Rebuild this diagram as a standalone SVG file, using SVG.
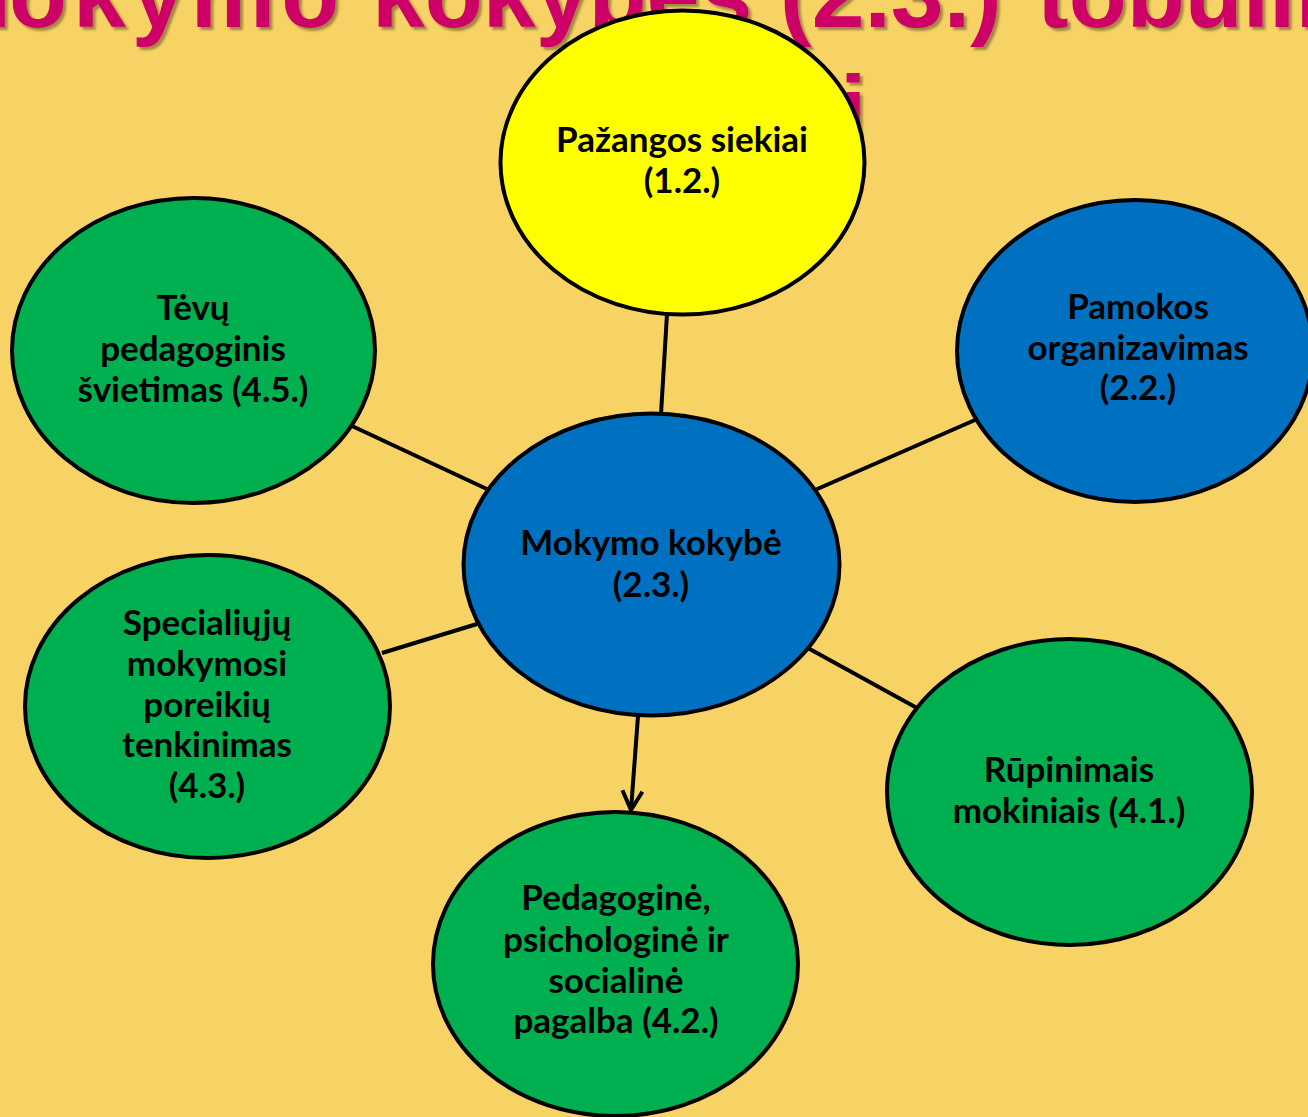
<svg xmlns="http://www.w3.org/2000/svg" width="1308" height="1117" viewBox="0 0 1308 1117">
<defs>
<style>
.title{font-family:"Liberation Sans",Arial,sans-serif;font-weight:bold;font-size:95px;fill:#CC0066}
.node{stroke:#000;stroke-width:4}
.blue{fill:#0070C0}
.green{fill:#00B050}
.yellow{fill:#FFFF00}
.lbl{font-family:Lato,"Open Sans","Liberation Sans",sans-serif;font-weight:bold;font-size:35px;fill:#000;text-anchor:middle}
.conn{stroke:#000;stroke-width:4;fill:none}
</style>
<filter id="sh" x="-5%" y="-20%" width="110%" height="140%">
<feDropShadow dx="3" dy="3" stdDeviation="1" flood-color="#000" flood-opacity="0.35"/>
</filter>
<marker id="arr" markerUnits="userSpaceOnUse" markerWidth="40" markerHeight="40" refX="0" refY="0" orient="auto" overflow="visible" viewBox="-30 -20 40 40">
<path d="M-19,-10 L0,0 L-19,10" fill="none" stroke="#000" stroke-width="4" stroke-linejoin="miter"/>
</marker>
</defs>
<rect width="1308" height="1117" fill="#F7D264"/>
<g id="title" filter="url(#sh)">
<text class="title" y="27"><tspan x="-68">M</tspan><tspan x="9" letter-spacing="6">okymo</tspan><tspan x="372">kokybės</tspan><tspan x="780">(2.3.)</tspan><tspan x="1037">tobulinimo</tspan></text>
<text class="title" x="840" y="142">i</text>
</g>
<g id="connectors">
<line class="conn" x1="667" y1="314" x2="661" y2="414"/>
<line class="conn" x1="352" y1="426" x2="489" y2="490"/>
<line class="conn" x1="975" y1="420" x2="815" y2="490"/>
<line class="conn" x1="382" y1="653" x2="477" y2="624"/>
<line class="conn" x1="806" y1="647" x2="917" y2="708"/>
<line class="conn" x1="638" y1="716" x2="631" y2="810" marker-end="url(#arr)"/>
</g>
<g id="node-pazangos">
<ellipse class="node yellow" cx="682.5" cy="162.5" rx="182" ry="152"/>
<text class="lbl"><tspan x="682" y="152">Pažangos siekiai</tspan><tspan x="682" y="193">(1.2.)</tspan></text>
</g>
<g id="node-tevu">
<ellipse class="node green" cx="193.5" cy="350.5" rx="181.5" ry="152.5"/>
<text class="lbl"><tspan x="193" y="320">Tėvų</tspan><tspan x="193" y="361">pedagoginis</tspan><tspan x="193" y="402">švietimas (4.5.)</tspan></text>
</g>
<g id="node-pamokos">
<ellipse class="node blue" cx="1135" cy="351" rx="178" ry="151"/>
<text class="lbl"><tspan x="1138" y="319">Pamokos</tspan><tspan x="1138" y="360">organizavimas</tspan><tspan x="1138" y="400">(2.2.)</tspan></text>
</g>
<g id="node-mokymo">
<ellipse class="node blue" cx="651.5" cy="564.5" rx="188" ry="151"/>
<text class="lbl"><tspan x="651" y="555">Mokymo kokybė</tspan><tspan x="651" y="597">(2.3.)</tspan></text>
</g>
<g id="node-specialiuju">
<ellipse class="node green" cx="207.5" cy="706.5" rx="182.5" ry="151.5"/>
<text class="lbl"><tspan x="207" y="635">Specialiųjų</tspan><tspan x="207" y="676">mokymosi</tspan><tspan x="207" y="717">poreikių</tspan><tspan x="207" y="757">tenkinimas</tspan><tspan x="207" y="798">(4.3.)</tspan></text>
</g>
<g id="node-rupinimais">
<ellipse class="node green" cx="1069.5" cy="792" rx="182.5" ry="153"/>
<text class="lbl"><tspan x="1069" y="782">Rūpinimais</tspan><tspan x="1069" y="823">mokiniais (4.1.)</tspan></text>
</g>
<g id="node-pedagogine">
<ellipse class="node green" cx="615.5" cy="964" rx="182.5" ry="152"/>
<text class="lbl"><tspan x="616" y="910">Pedagoginė,</tspan><tspan x="616" y="952">psichologinė ir</tspan><tspan x="616" y="993">socialinė</tspan><tspan x="616" y="1033">pagalba (4.2.)</tspan></text>
</g>
</svg>
